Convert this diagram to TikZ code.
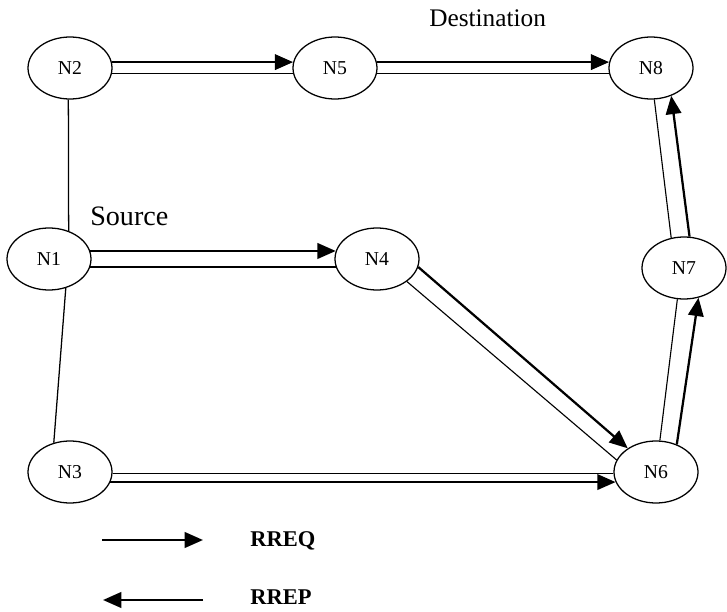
\documentclass[tikz,border=0pt]{standalone}
\usepackage{fontspec}
\setmainfont{Liberation Serif}
\usetikzlibrary{arrows.meta, shapes.geometric}
\begin{document}
\begin{tikzpicture}[
        nd/.style={draw, ellipse, line width=0.9pt, minimum width=2.1cm, minimum height=1.55cm, inner sep=0pt, font=\fontsize{14}{16}\selectfont},
        req/.style={line width=1.6pt, -{Triangle[length=13pt,width=11pt]}},
        rep/.style={line width=0.8pt},
        lbl/.style={anchor=west, inner sep=0pt}
    ]
        \useasboundingbox (0, 0) rectangle (18.175, -15.3);
        \node[nd] at (1.75, -1.7) (n2) {N2};
        \node[nd] at (8.375, -1.7) (n5) {N5};
        \node[nd] at (16.275, -1.7) (n8) {N8};
        \node[nd] at (1.225, -6.475) (n1) {N1};
        \node[nd] at (9.425, -6.475) (n4) {N4};
        \node[nd] at (17.1, -6.7) (n7) {N7};
        \node[nd] at (1.75, -11.8) (n3) {N3};
        \node[nd] at (16.4, -11.8) (n6) {N6};
        \node[lbl, font=\fontsize{20}{24}\selectfont] at (2.25, -5.4) (src) {Source};
        \node[lbl, font=\fontsize{18}{22}\selectfont] at (10.725, -0.46) (dst) {Destination};
        % links
        \draw[line width=0.9pt] (n2.-93) -- (n1.55);
        \draw[line width=0.9pt] (n1.-60) -- (n3.119);
        % request and reply paths
        \draw[req] (n2.8) -- (n5.172);
        \draw[rep] (n2.-8) -- (n5.-172);
        \draw[req] (n5.8) -- (n8.172);
        \draw[rep] (n5.-8) -- (n8.-172);
        \draw[req] (n1.11) -- (n4.169);
        \draw[rep] (n1.-11) -- (n4.-169);
        \draw[req] (n4.-11) -- (n6.140);
        \draw[rep] (n4.-37) -- (n6.163);
        \draw[rep] (n3.-2) -- (n6.-178);
        \draw[req] (n3.-14) -- (n6.-166);
        \draw[req] (n6.53) -- (n7.-64);
        \draw[rep] (n6.83) -- (n7.-102);
        \draw[req] (n7.80) -- (n8.-54);
        \draw[rep] (n7.113) -- (n8.-84);
        % legend
        \coordinate (q1) at (2.55, -13.5);
        \coordinate (q2) at (5.075, -13.5);
        \coordinate (p1) at (5.075, -15);
        \coordinate (p2) at (2.575, -15);
        \draw[req, line width=1.8pt] (q1) -- (q2);
        \draw[req, line width=1.8pt] (p1) -- (p2);
        \node[lbl, font=\bfseries\fontsize{16}{18}\selectfont] at (6.25, -13.525) (rreq) {RREQ};
        \node[lbl, font=\bfseries\fontsize{16}{18}\selectfont] at (6.25, -14.93) (rrep) {RREP};
    \end{tikzpicture}
\end{document}
